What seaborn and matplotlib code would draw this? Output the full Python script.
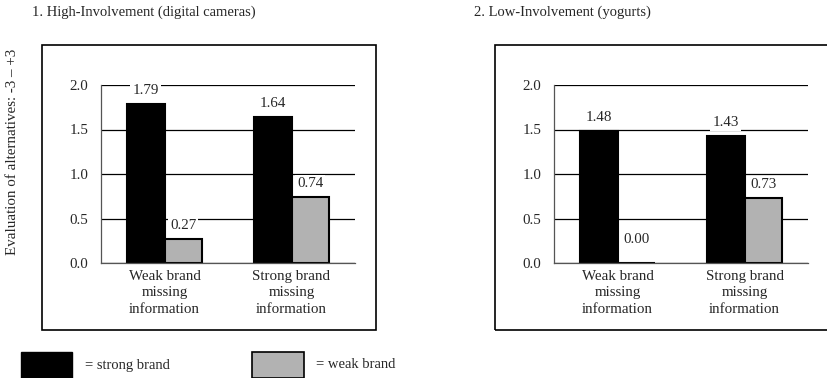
import matplotlib
matplotlib.use("Agg")
import matplotlib.pyplot as plt
from matplotlib.patches import Rectangle
import numpy as np
import pandas as pd
import seaborn as sns

# data
categories = ["Weak brand\nmissing\ninformation", "Strong brand\nmissing\ninformation"]
brands = ["strong brand", "weak brand"]
high_strong = [1.79, 1.64]
high_weak = [0.27, 0.74]
low_strong = [1.48, 1.43]
low_weak = [0.00, 0.73]
panel_titles = ["1. High-Involvement (digital cameras)", "2. Low-Involvement (yogurts)"]
y_label = "Evaluation of alternatives: -3 \u2013 +3"
y_ticks = [0.0, 0.5, 1.0, 1.5, 2.0]

colors = {"strong brand": "black", "weak brand": "#b2b2b2"}

sns.set_style("white")
plt.rcParams["font.family"] = ["Liberation Serif", "DejaVu Serif"]
plt.rcParams["font.size"] = 10.8

W, H = 827, 378
fig = plt.figure(figsize=(W / 100, H / 100), dpi=100)


def px_axes(x0, x1, ytop, ybot):
    return fig.add_axes([x0 / W, (H - ybot) / H, (x1 - x0) / W, (ybot - ytop) / H])


def make_df(strong, weak):
    return pd.DataFrame({
        "cat": categories * 2,
        "brand": [brands[0]] * 2 + [brands[1]] * 2,
        "val": strong + weak,
    })


def draw_panel(ax, strong, weak):
    df = make_df(strong, weak)
    sns.barplot(data=df, x="cat", y="val", hue="brand", order=categories,
                hue_order=brands, palette=colors, width=0.59, ax=ax,
                edgecolor="black", linewidth=1.5, legend=False, saturation=1)
    for c in ax.containers:
        labels = [f"{b.get_height():.2f}" for b in c]
        for lab, b in zip(labels, c):
            pad = 12 if b.get_height() == 0 else 5
            ax.annotate(lab, (b.get_x() + b.get_width() / 2, b.get_height()),
                        xytext=(0, pad), textcoords="offset points",
                        ha="center", va="bottom", fontsize=10.8,
                        bbox=dict(fc="white", ec="none", pad=1.5))
    ax.set_xlim(-0.5, 1.5)
    ax.set_ylim(0, 2.0)
    ax.set_yticks(y_ticks)
    ax.set_yticklabels([f"{t:.1f}" for t in y_ticks])
    ax.yaxis.grid(True, color="black", linewidth=0.9)
    ax.set_axisbelow(True)
    ax.set_xlabel("")
    ax.set_ylabel("")
    ax.set_xticks([0, 1])
    ax.set_xticklabels(categories, linespacing=1.35)
    ax.set_xticks([-0.5, 0.5, 1.5], minor=True)
    ax.tick_params(axis="x", which="major", length=0, pad=5)
    ax.tick_params(axis="x", which="minor", length=4, width=0.8, color="#555555", direction="out")
    ax.tick_params(axis="y", length=4, width=0.9, color="black", direction="out", pad=5)
    for s in ["top", "right"]:
        ax.spines[s].set_visible(False)
    for s in ["left", "bottom"]:
        ax.spines[s].set_color("#555555")
        ax.spines[s].set_linewidth(0.9)


ax1 = px_axes(101, 355, 85, 263)
draw_panel(ax1, high_strong, high_weak)
ax2 = px_axes(554, 808, 85, 263)
draw_panel(ax2, low_strong, low_weak)

# outer frames
fig.patches.append(Rectangle((42 / W, (H - 330) / H), (376 - 42) / W, (330 - 45) / H,
                             transform=fig.transFigure, fill=False, ec="black", lw=1.2))
fig.patches.append(Rectangle((495 / W, (H - 330) / H), (835 - 495) / W, (330 - 45) / H,
                             transform=fig.transFigure, fill=False, ec="black", lw=1.2))

fig.text(32 / W, (H - 12) / H, panel_titles[0], fontsize=10.5, va="center", ha="left")
fig.text(474 / W, (H - 12) / H, panel_titles[1], fontsize=10.5, va="center", ha="left")
fig.text(13 / W, (H - 152) / H, y_label, rotation=90, fontsize=10.8, va="center", ha="center")

# legend keys
fig.patches.append(Rectangle((21 / W, 0), (72 - 21) / W, (378 - 352) / H,
                             transform=fig.transFigure, fc="black", ec="black", lw=1))
fig.text(85 / W, (H - 365) / H, "= " + brands[0], fontsize=10.5, va="center", ha="left")
fig.patches.append(Rectangle((252 / W, 0), (304 - 252) / W, (378 - 352) / H,
                             transform=fig.transFigure, fc=colors["weak brand"], ec="black", lw=1.2))
fig.text(316 / W, (H - 365) / H, "= " + brands[1], fontsize=10.5, va="center", ha="left")

fig.savefig("out.png", dpi=100)
